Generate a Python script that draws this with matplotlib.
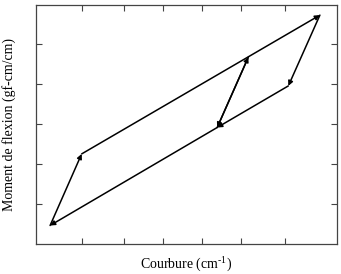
import numpy as np
import matplotlib
matplotlib.use("Agg")
import matplotlib.pyplot as plt

# hysteresis path, corner points (arbitrary units)
curv = [0.36, 1.15, 7.11, 6.32, 4.54, 5.32]
moment = [0.47, 2.26, 5.73, 3.96, 2.92, 4.68]

# segments as (start index, end index), arrowhead at the end
segments = [(0, 1), (1, 2), (2, 3), (3, 4), (4, 5), (5, 4), (4, 0)]

x_ticks = [1.15, 2.21, 3.19, 4.17, 5.13, 6.23]
y_ticks = [1, 2, 3, 4, 5]

plt.rcParams['font.family'] = ['Liberation Serif', 'DejaVu Serif']
plt.rcParams['mathtext.fontset'] = 'custom'
plt.rcParams['mathtext.rm'] = 'Liberation Serif'

fig = plt.figure(figsize=(3.41, 2.74), dpi=100)
ax = fig.add_axes([0.1047, 0.1084, 0.8827, 0.8744])

for a, b in segments:
	ax.annotate('', xy=(curv[b], moment[b]), xytext=(curv[a], moment[a]),
		arrowprops=dict(arrowstyle='-|>', color='black', lw=1.1,
			mutation_scale=7, shrinkA=0, shrinkB=0))

ax.set_xlim(0, 7.53)
ax.set_ylim(0, 5.99)
ax.set_xticks(x_ticks)
ax.set_yticks(y_ticks)
ax.tick_params(direction='in', length=4, width=0.8, color='#444444',
	top=True, right=True, labelbottom=False, labelleft=False)
for s in ax.spines.values():
	s.set_linewidth(0.9)
	s.set_color('#444444')

ax.set_xlabel('Courbure (cm$^{\\text{-1}}$)', fontsize=10, labelpad=7)
ax.set_ylabel('Moment de flexion (gf-cm/cm)', fontsize=10, labelpad=14)

fig.savefig('out.png', dpi=100)
